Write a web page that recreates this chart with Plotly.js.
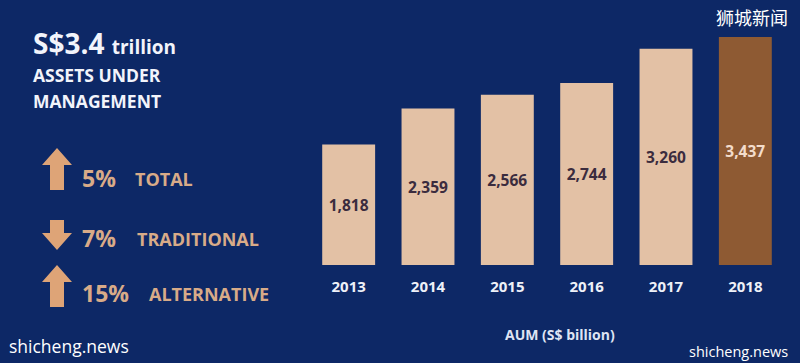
<!DOCTYPE html>
<html><head><meta charset="utf-8">
<script src="https://cdn.plot.ly/plotly-3.0.1.min.js"></script>
<style>html,body{margin:0;padding:0;background:#0d2866;}</style>
</head><body><div id="chart" style="width:800px;height:363px;"></div>
<script>
const years = ['2013','2014','2015','2016','2017','2018'];
const aum = [1818, 2359, 2566, 2744, 3260, 3437];
const valueLabels = ['1,818','2,359','2,566','2,744','3,260','3,437'];
const headline = 'S$3.4';
const headlineUnit = 'trillion';
const changePct = ['5%', '7%', '15%'];
const changeLabels = ['TOTAL', 'TRADITIONAL', 'ALTERNATIVE'];
const changeDir = ['up', 'down', 'up'];

const W = 800, H = 363, L = 309, R = 15, T = 37, B = 98;
const pw = W - L - R, ph = H - T - B;
const px = x => (x - L) / pw;
const py = y => (H - B - y) / ph;

const BG = '#0d2866', PEACH = '#e3c1a5', BROWN = '#8e5a33', ORANGE = '#dea477', TXT = '#d8ab88';
const FONT = '"Open Sans", Lato, sans-serif';
const last = years.length - 1;

const trace = {
  type: 'bar', x: years, y: aum, text: valueLabels,
  textposition: 'inside', insidetextanchor: 'middle', textangle: 0,
  insidetextfont: {family: FONT, size: 15.5, weight: 'bold',
    color: years.map((_, i) => i === last ? '#f3dccb' : '#3b2c3e')},
  marker: {color: years.map((_, i) => i === last ? BROWN : PEACH),
    line: {width: 0}},
  hoverinfo: 'none', cliponaxis: false
};

const ann = [];
function txt(s, x, y, size, color, anchor, weight, family) {
  ann.push({text: s, xref: 'paper', yref: 'paper', x: px(x), y: py(y),
    xanchor: anchor || 'left', yanchor: 'middle', showarrow: false,
    font: {family: family || FONT, size: size, color: color, weight: weight || 'bold'}});
}
txt('<b>' + headline + '</b> <span style="font-size:19px">' + headlineUnit + '</span>', 31, 43, 28, '#f2f4fb');
txt('ASSETS UNDER', 31, 75, 17.5, '#f2f4fb');
txt('MANAGEMENT', 31, 101, 17.5, '#f2f4fb');
const rowY = [178, 238, 293];
const labelX = [133, 135, 147];
changePct.forEach((p, i) => {
  txt(p, 80, rowY[i], 23, TXT);
  txt(changeLabels[i], labelX[i], rowY[i] + 1, 18, TXT);
});
txt('AUM (S$ billion)', 560, 334, 14, '#dfe4f3', 'center');
txt('狮城新闻', 790, 17, 18, '#ffffff', 'right', 'normal', '"Noto Sans CJK SC", sans-serif');
txt('shicheng.news', 7, 346, 17.5, '#ffffff', 'left', 'normal', '"Open Sans", sans-serif');
txt('shicheng.news', 790, 351, 14.5, '#ffffff', 'right', 'normal', '"Open Sans", sans-serif');

// arrows
const arrowBoxes = [[148, 190], [220, 250], [265, 307]];
const shapes = arrowBoxes.map((b, i) => {
  const [y0, y1] = b; const up = changeDir[i] === 'up';
  const xl = 42, xr = 72, sl = 50, sr = 64, head = 17;
  let pts;
  if (up) pts = [[57, y0], [xr, y0 + head], [sr, y0 + head], [sr, y1], [sl, y1], [sl, y0 + head], [xl, y0 + head]];
  else pts = [[57, y1], [xr, y1 - head], [sr, y1 - head], [sr, y0], [sl, y0], [sl, y1 - head], [xl, y1 - head]];
  const path = 'M' + pts.map(p => px(p[0]).toFixed(5) + ',' + py(p[1]).toFixed(5)).join(' L') + ' Z';
  return {type: 'path', xref: 'paper', yref: 'paper', path: path, fillcolor: ORANGE, line: {width: 0}};
});

const layout = {
  width: W, height: H, margin: {l: L, r: R, t: T, b: B},
  paper_bgcolor: BG, plot_bgcolor: BG, showlegend: false, bargap: 0.333,
  xaxis: {type: 'category', showgrid: false, zeroline: false, showline: false, ticks: '',
    ticklabelstandoff: 11,
    tickfont: {family: FONT, size: 15, color: '#eef1f8', weight: 'bold'}},
  yaxis: {range: [0, 3437], visible: false, fixedrange: true},
  annotations: ann, shapes: shapes
};
Plotly.newPlot('chart', [trace], layout, {displayModeBar: false, staticPlot: true});
</script></body></html>
